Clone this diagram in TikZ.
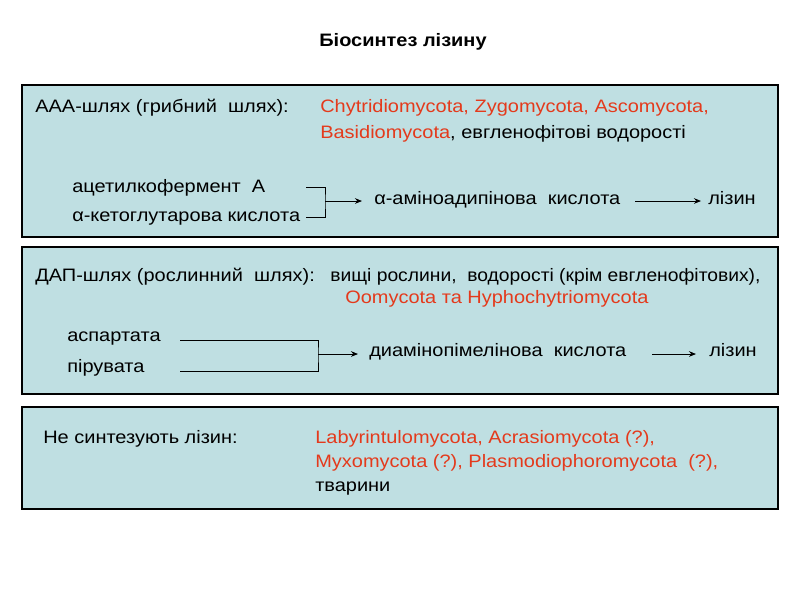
\documentclass[tikz,border=0pt]{standalone}
\usepackage{fontspec}
\setmainfont{Liberation Sans}[FakeStretch=1.11]
\usetikzlibrary{arrows.meta}
\definecolor{panelblue}{RGB}{191,223,226}
\definecolor{taxred}{RGB}{228,58,28}
\tikzset{
  txt/.style={anchor=base west, inner sep=0pt, font=\fontsize{12.8}{15}\selectfont},
  red/.style={txt, text=taxred},
  panel/.style={draw=black, fill=panelblue, line width=0.8pt},
  arr/.style={-{Stealth[length=5pt,width=4pt]}, line width=0.6pt}
}
\begin{document}
\begin{tikzpicture}[x=0.025cm, y=-0.025cm]
\useasboundingbox (0,0) rectangle (800,600);

\node [txt, anchor=base, font=\fontsize{12.8}{15}\selectfont\bfseries] (title) at (403,46) {Біосинтез лізину};

% AAA-pathway
\draw [panel] (22,85) rectangle (778,237);
\node [txt] (aaa) at (35,112) {ААА-шлях (грибний\ \ шлях):};
\node [red] (aaaorg1) at (320,112) {Chytridiomycota, Zygomycota, Ascomycota,};
\node [txt] (aaaorg2) at (320,138) {\textcolor{taxred}{Basidiomycota}, евгленофітові водорості};
\node [txt] (acet) at (72,192) {ацетилкофермент\ \ А};
\node [txt] (keto) at (72,221) {α-кетоглутарова кислота};
\node [txt] (aminoad) at (374,204) {α-аміноадипінова\ \ кислота};
\node [txt] (lysA) at (708,204) {лізин};

\coordinate (bA1) at (306,187);
\coordinate (bA2) at (306,217);
\coordinate (jA) at (325,201);
\draw [line width=0.6pt] (bA1) -| (jA) |- (bA2);
\draw [arr] (jA) -- (362,201);
\draw [arr] (635,201) -- (701,201);

% DAP-pathway
\draw [panel] (22,247) rectangle (778,394);
\node [txt] (dap) at (35,281) {ДАП-шлях (рослинний\ \ шлях):};
\node [txt] (daporg1) at (330,281) {\scalebox{0.965}[1]{вищі рослини,\ \ водорості (крім евгленофітових),}};
\node [red] (daporg2) at (345,303) {Oomycota та Hyphochytriomycota};
\node [txt] (asp) at (67,341) {аспартата};
\node [txt] (pyr) at (67,372) {пірувата};
\node [txt] (diamino) at (369,356) {диамінопімелінова\ \ кислота};
\node [txt] (lysD) at (709,356) {лізин};

\coordinate (dA1) at (180,340);
\coordinate (dA2) at (180,371);
\coordinate (jD) at (318,354);
\draw [line width=0.6pt] (dA1) -| (jD) |- (dA2);
\draw [arr] (jD) -- (358,354);
\draw [arr] (652,354) -- (696,354);

% no synthesis
\draw [panel] (22,407) rectangle (778,509);
\node [txt] (nonsyn) at (43,443) {Не синтезують лізин:};
\node [red] (non1) at (315,443) {Labyrintulomycota, Acrasiomycota (?),};
\node [red] (non2) at (315,467) {Myxomycota (?), Plasmodiophoromycota\ \ (?),};
\node [txt] (non3) at (315,491) {тварини};
\end{tikzpicture}
\end{document}
